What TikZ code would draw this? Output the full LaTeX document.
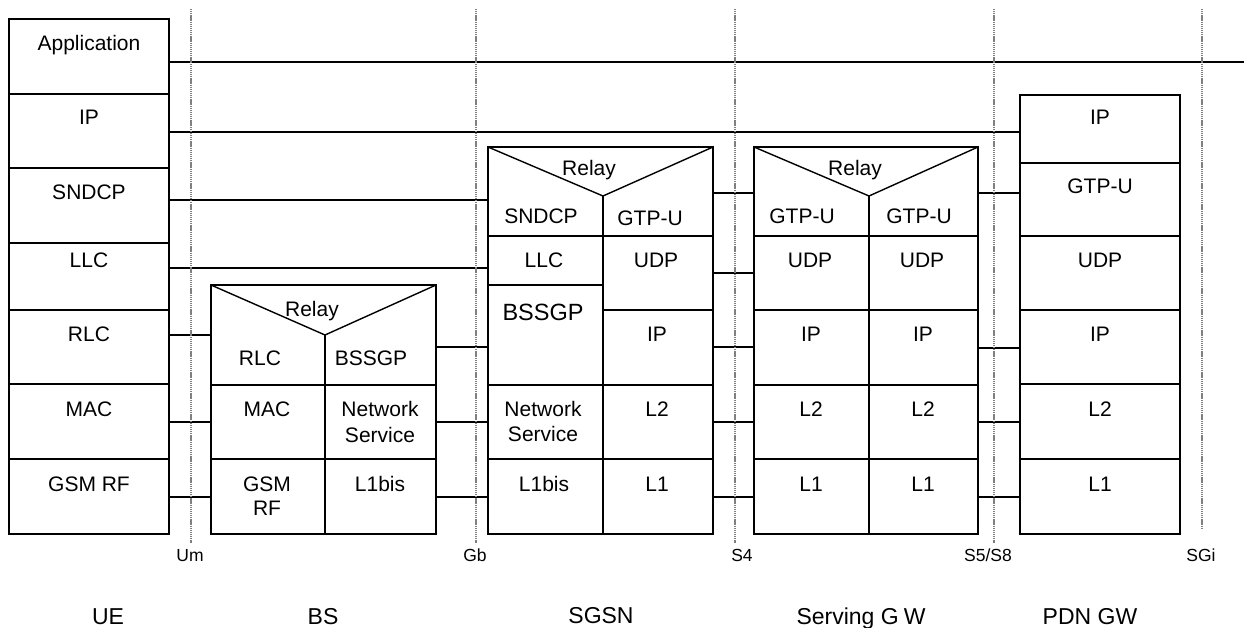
\documentclass[tikz,border=0pt]{standalone}
\usepackage{fontspec}
\setmainfont{Liberation Sans}
\begin{document}
\begin{tikzpicture}[x=1pt,y=-1pt,
  stack/.style={draw, line width=1.4pt, inner sep=0pt, outer sep=0pt},
  sepline/.style={line width=1.4pt},
  link/.style={line width=1.2pt},
  iface/.style={draw=black!50, line width=1.8pt, dash pattern=on 1.3pt off 0.8pt},
  lbl/.style={font=\fontsize{21}{25}\selectfont, anchor=base, inner sep=0pt},
  biglbl/.style={font=\fontsize{23.5}{28}\selectfont, anchor=base, inner sep=0pt},
  smalllbl/.style={font=\fontsize{17.5}{21}\selectfont, anchor=base, inner sep=0pt},
  entlbl/.style={font=\fontsize{23}{28}\selectfont, anchor=base, inner sep=0pt}]
\useasboundingbox (0,0) rectangle (1244,628);

% ---------- stacks ----------
\node[stack, minimum width=160pt, minimum height=515pt] (ue)   at (89,276.5) {};
\node[stack, minimum width=225pt, minimum height=249pt] (bs)   at (323.5,409.5) {};
\node[stack, minimum width=225pt, minimum height=387pt] (sgsn) at (600.5,340.5) {};
\node[stack, minimum width=224pt, minimum height=387pt] (sgw)  at (866,340.5) {};
\node[stack, minimum width=160pt, minimum height=439pt] (pdn)  at (1100,314.5) {};

% ---------- UE ----------
\foreach \yy in {94,168,243,310,384,459}
  \draw[sepline] (ue.west |- 0,\yy) -- (ue.east |- 0,\yy);
\node[lbl] (ue1) at (89,51)  {Application};
\node[lbl] (ue2) at (89,125) {IP};
\node[lbl] (ue3) at (89,200) {SNDCP};
\node[lbl] (ue4) at (89,267) {LLC};
\node[lbl] (ue5) at (89,341) {RLC};
\node[lbl] (ue6) at (89,416) {MAC};
\node[lbl] (ue7) at (89,491) {GSM RF};

% ---------- BS ----------
\coordinate (bsv) at (325,335);
\draw[sepline] (bs.north west) -- (bsv) -- (bs.north east);
\draw[sepline] (bsv) -- (bsv |- bs.south);
\foreach \yy in {385,459}
  \draw[sepline] (bs.west |- 0,\yy) -- (bs.east |- 0,\yy);
\node[lbl] (bs0) at (312,316) {Relay};
\node[lbl] (bs1) at (260,365) {RLC};
\node[lbl] (bs2) at (371,365) {BSSGP};
\node[lbl] (bs3) at (267,416) {MAC};
\node[lbl] (bs4) at (380,416) {Network};
\node[lbl] (bs5) at (380,442) {Service};
\node[lbl] (bs6) at (267,491) {GSM};
\node[lbl] (bs7) at (267,515) {RF};
\node[lbl] (bs8) at (380,491) {L1bis};

% ---------- SGSN ----------
\coordinate (sgsnv) at (603,196);
\draw[sepline] (sgsn.north west) -- (sgsnv) -- (sgsn.north east);
\draw[sepline] (sgsnv) -- (sgsnv |- sgsn.south);
\foreach \yy in {236,385,459}
  \draw[sepline] (sgsn.west |- 0,\yy) -- (sgsn.east |- 0,\yy);
\draw[sepline] (sgsn.west |- 0,285) -- (sgsnv |- 0,285);
\draw[sepline] (sgsnv |- 0,310) -- (sgsn.east |- 0,310);
\node[lbl] (sg0) at (589,176) {Relay};
\node[lbl] (sg1) at (541,224) {SNDCP};
\node[lbl] (sg2) at (650,226) {GTP-U};
\node[lbl] (sg3) at (544,267) {LLC};
\node[lbl] (sg4) at (656,267) {UDP};
\node[biglbl] (sg5) at (543,320) {BSSGP};
\node[lbl] (sg6) at (657,341) {IP};
\node[lbl] (sg7) at (543,416) {Network};
\node[lbl] (sg8) at (543,441) {Service};
\node[lbl] (sg9) at (657,416) {L2};
\node[lbl] (sg10) at (544,491) {L1bis};
\node[lbl] (sg11) at (657,491) {L1};

% ---------- Serving GW ----------
\coordinate (sgwv) at (869,196);
\draw[sepline] (sgw.north west) -- (sgwv) -- (sgw.north east);
\draw[sepline] (sgwv) -- (sgwv |- sgw.south);
\foreach \yy in {236,310,385,459}
  \draw[sepline] (sgw.west |- 0,\yy) -- (sgw.east |- 0,\yy);
\node[lbl] (gw0) at (855,176) {Relay};
\node[lbl] (gw1) at (802,224) {GTP-U};
\node[lbl] (gw2) at (919,224) {GTP-U};
\node[lbl] (gw3) at (810,267) {UDP};
\node[lbl] (gw4) at (922,267) {UDP};
\node[lbl] (gw5) at (811,341) {IP};
\node[lbl] (gw6) at (923,341) {IP};
\node[lbl] (gw7) at (811,416) {L2};
\node[lbl] (gw8) at (923,416) {L2};
\node[lbl] (gw9) at (811,491) {L1};
\node[lbl] (gw10) at (923,491) {L1};

% ---------- PDN GW ----------
\foreach \yy in {163,236,310,384,459}
  \draw[sepline] (pdn.west |- 0,\yy) -- (pdn.east |- 0,\yy);
\node[lbl] (pd1) at (1100,125) {IP};
\node[lbl] (pd2) at (1100,194) {GTP-U};
\node[lbl] (pd3) at (1100,267) {UDP};
\node[lbl] (pd4) at (1100,341) {IP};
\node[lbl] (pd5) at (1100,416) {L2};
\node[lbl] (pd6) at (1100,491) {L1};

% ---------- peer links ----------
\coordinate (append) at (1244,62);
\draw[link] (ue.east |- append) -- (append);
\draw[link] (ue.east |- 0,132) -- (pdn.west |- 0,132);
\draw[link] (ue.east |- 0,200) -- (sgsn.west |- 0,200);
\draw[link] (ue.east |- 0,268) -- (sgsn.west |- 0,268);
\foreach \yy in {335,422,497}
  \draw[link] (ue.east |- 0,\yy) -- (bs.west |- 0,\yy);
\foreach \yy in {347,422,497}
  \draw[link] (bs.east |- 0,\yy) -- (sgsn.west |- 0,\yy);
\foreach \yy in {193,273,347,422,497}
  \draw[link] (sgsn.east |- 0,\yy) -- (sgw.west |- 0,\yy);
\foreach \yy in {193,348,422,497}
  \draw[link] (sgw.east |- 0,\yy) -- (pdn.west |- 0,\yy);

% ---------- reference points ----------
\coordinate (umT) at (191,9);   \coordinate (umB) at (191,543);
\coordinate (gbT) at (476,9);   \coordinate (gbB) at (476,543);
\coordinate (s4T) at (735,9);   \coordinate (s4B) at (735,543);
\coordinate (s5T) at (994,9);   \coordinate (s5B) at (994,543);
\coordinate (sgiT) at (1202,9); \coordinate (sgiB) at (1202,529);
\draw[iface] (umT) -- (umB);
\draw[iface] (gbT) -- (gbB);
\draw[iface] (s4T) -- (s4B);
\draw[iface] (s5T) -- (s5B);
\draw[iface] (sgiT) -- (sgiB);
\node[smalllbl] (lum)  at (190,561)  {Um};
\node[smalllbl] (lgb)  at (475,561)  {Gb};
\node[smalllbl] (ls4)  at (742,561)  {S4};
\node[smalllbl] (ls5)  at (988,561)  {S5/S8};
\node[smalllbl] (lsgi) at (1201,561) {SGi};

% ---------- entity names ----------
\node[entlbl] (nue)   at (108,624)  {UE};
\node[entlbl] (nbs)   at (323,624)  {BS};
\node[entlbl] (nsgsn) at (601,623)  {SGSN};
\node[entlbl] (nsgw)  at (861,624)  {Serving G\kern5pt W};
\node[entlbl] (npdn)  at (1090,624) {PDN GW};
\end{tikzpicture}
\end{document}
